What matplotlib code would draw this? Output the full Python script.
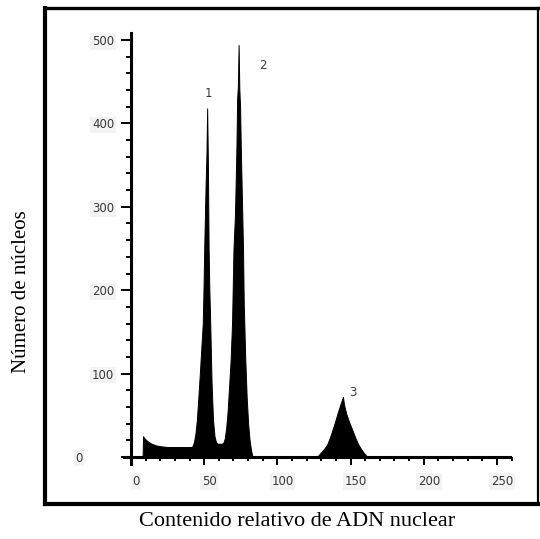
"""Redraw a flow cytometry histogram of relative nuclear DNA content."""

from __future__ import annotations

import matplotlib

matplotlib.use("Agg")

import matplotlib.pyplot as plt
from matplotlib.lines import Line2D
from matplotlib.ticker import MultipleLocator
import matplotlib.transforms as mtransforms


OUTPUT_FILE = "out.png"

# channel (relative DNA content) and nucleus counts
channel = [
    7.9, 8.2, 9, 10, 12, 14, 17, 20, 25, 30, 35, 40,
    41, 42, 43, 44, 45, 46, 47, 48, 49, 49.5, 50, 51, 51.5, 52, 52.5, 53, 53.5, 54, 55, 56, 57, 58, 59, 61, 62,
    63, 64, 65, 66, 67, 68, 69, 70, 71, 72, 72.5, 73, 73.5, 74, 74.5, 75, 76, 76.5, 77, 78, 79, 80, 81, 82, 83,
    127, 128, 130, 132, 134, 136, 137.5, 139, 141, 143, 144, 144.8, 145.5, 147, 149, 151.5, 153, 155, 157, 159, 161, 162,
]
counts = [
    0, 25, 23, 21, 18, 16, 14, 13, 12, 12, 12, 12,
    12, 13, 18, 28, 45, 72, 100, 130, 160, 200, 250, 330, 360, 418, 355, 250, 200, 168, 90, 45, 25, 18, 16, 16, 16,
    17, 22, 35, 55, 85, 115, 160, 250, 290, 370, 430, 445, 494, 440, 420, 370, 290, 250, 185, 120, 72, 40, 20, 8, 0,
    0, 2, 6, 10, 15, 24, 32, 40, 52, 63, 68, 72, 63, 52, 42, 31, 24, 16, 10, 5, 1, 0,
]

peak_names = ["1", "2", "3"]
peak_label_x = [52.6, 90.2, 151.6]
peak_label_y = [436, 470, 77]

x_major = [0, 50, 100, 150, 200, 250]
x_tick_labels = ["0", "50", "100", "150", "200", "250"]
y_major = [0, 100, 200, 300, 400, 500]
y_tick_labels = ["", "100", "200", "300", "400", "500"]

X_LABEL = "Contenido relativo de ADN nuclear"
Y_LABEL = "Número de núcleos"

TICK_COLOR = "#383838"
LABEL_BOX = dict(boxstyle="square,pad=0.15", facecolor="#f3f3f3", edgecolor="none")


def draw_frame(fig) -> None:
    """Thick black border round the plot, as in the scanned figure."""
    left, right, top, bottom = 45 / 540, 538 / 540, 1 - 8 / 539, 1 - 504 / 539
    sides = [
        ([left, left], [bottom, top], 3.0),
        ([left, right], [bottom, bottom], 3.0),
        ([left, right], [top, top], 2.4),
        ([right, right], [bottom, top], 1.6),
    ]
    for xs, ys, lw in sides:
        fig.add_artist(Line2D(xs, ys, transform=fig.transFigure, color="black",
                              linewidth=lw, solid_capstyle="projecting"))


def build_chart() -> None:
    fig = plt.figure(figsize=(5.4, 5.39), dpi=100)
    ax = fig.add_axes([0.2291, 0.1397, 0.7183, 0.7985])

    ax.fill_between(channel, counts, 0, color="black", linewidth=0.7, edgecolor="black")

    for name, lx, ly in zip(peak_names, peak_label_x, peak_label_y):
        ax.text(lx, ly, name, fontsize=8.5, color=TICK_COLOR, ha="center", va="center")

    ax.set_xlim(-5, 260)
    ax.set_ylim(-8, 508)

    for side in ("top", "right"):
        ax.spines[side].set_visible(False)
    ax.spines["left"].set_position(("data", 0))
    ax.spines["bottom"].set_position(("data", 0))
    ax.spines["left"].set_bounds(-8, 508)
    ax.spines["bottom"].set_bounds(-5, 259)
    for side in ("left", "bottom"):
        ax.spines[side].set_linewidth(2.2)

    ax.set_xticks(x_major)
    ax.set_xticklabels(x_tick_labels)
    ax.set_yticks(y_major)
    ax.set_yticklabels(y_tick_labels)
    ax.xaxis.set_minor_locator(MultipleLocator(10))
    ax.yaxis.set_minor_locator(MultipleLocator(20))

    ax.tick_params(axis="x", which="major", direction="out", length=6, width=1.4,
                   pad=7, labelsize=8.5, labelcolor=TICK_COLOR)
    ax.tick_params(axis="x", which="minor", direction="out", length=3.2, width=1.4)
    ax.tick_params(axis="y", which="major", direction="out", length=7, width=1.4,
                   pad=5, labelsize=8.5, labelcolor=TICK_COLOR)
    ax.tick_params(axis="y", which="minor", direction="out", length=3.6, width=1.4)

    shift = mtransforms.ScaledTranslation(5 / 100, 0, fig.dpi_scale_trans)
    for label in ax.get_xticklabels():
        label.set_transform(label.get_transform() + shift)
        label.set_bbox(LABEL_BOX)
    for label in ax.get_yticklabels():
        label.set_bbox(LABEL_BOX)

    # the y "0" sits well left of the other tick labels
    fig.text(79 / 540, 1 - 458 / 539, "0", fontsize=8.5, color=TICK_COLOR,
             ha="center", va="center", bbox=LABEL_BOX)

    fig.text(297 / 540, 1 - 521 / 539, X_LABEL, family="Liberation Serif",
             fontsize=16, ha="center", va="center")
    fig.text(22 / 540, 1 - 292 / 539, Y_LABEL, family="Liberation Serif",
             fontsize=15, rotation=90, ha="center", va="center")

    draw_frame(fig)
    fig.savefig(OUTPUT_FILE, dpi=100)
    plt.close(fig)


if __name__ == "__main__":
    build_chart()
